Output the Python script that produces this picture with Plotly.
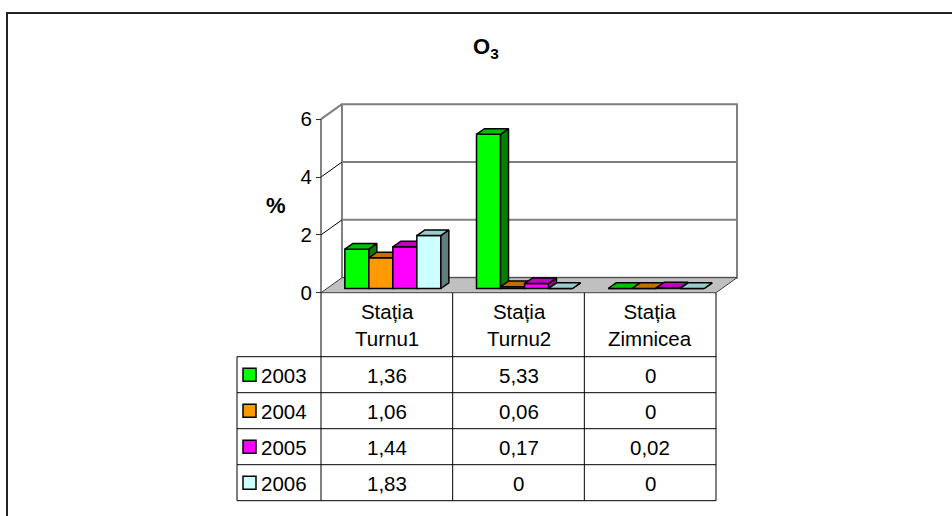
import plotly.graph_objects as go

# ---------------- data ----------------
categories = ["Stația<br>Turnu1", "Stația<br>Turnu2", "Stația<br>Zimnicea"]
years = ["2003", "2004", "2005", "2006"]
values_2003 = [1.36, 5.33, 0]
values_2004 = [1.06, 0.06, 0]
values_2005 = [1.44, 0.17, 0.02]
values_2006 = [1.83, 0, 0]
y_ticks = [0, 2, 4, 6]
series_values = [values_2003, values_2004, values_2005, values_2006]

# ---------------- styling ----------------
front_colors = ["#00FF00", "#FF9900", "#FF00FF", "#CCFFFF"]
top_colors = ["#00C000", "#C07000", "#C000C0", "#99CCCC"]
side_colors = ["#008000", "#996600", "#990099", "#5F7F7F"]
FONT = "Liberation Sans, Arial, sans-serif"
FS = 20.5
W, H = 952, 516

# pixel scale of the front plane (used to set axis ranges)
X0, XPX = 321.0, 131.67     # px of x=0, px per category
Y0, YPX = 292.7, 28.92      # px of value 0, px per unit
xr = [(0 - X0) / XPX, (W - X0) / XPX]
yr = [(Y0 - H) / YPX, Y0 / YPX]

# 3D offsets in data units
BX, BY = 21 / XPX, 15 / YPX          # floor / wall depth
BDX, BDY = 6 / XPX, 4.2 / YPX        # bar front shift into depth
DDX, DDY = 8 / XPX, 5.7 / YPX        # bar depth
BW = 24 / XPX                        # bar width
ncat = len(categories)
nser = len(years)


def px(x):
    return x / W


def py(y):
    return 1 - y / H


fig = go.Figure()

# ---------------- bars (one overlaid subplot per series for correct occlusion) ----
for k, vals in enumerate(series_values):
    ax = "" if k == 0 else str(k + 1)
    xs = [i + 0.5 + (k - (nser - 1) / 2) * BW + BDX for i in range(ncat)]
    fig.add_trace(go.Bar(
        x=xs, y=vals, base=BDY, width=BW,
        marker=dict(color=front_colors[k], line=dict(color="black", width=1.5)),
        xaxis="x" + ax, yaxis="y" + ax, hoverinfo="skip", showlegend=False))
    sx, sy, tx, ty = [], [], [], []
    for x, v in zip(xs, vals):
        xl, xrgt = x - BW / 2, x + BW / 2
        b, t = BDY, BDY + v
        sx += [xrgt, xrgt + DDX, xrgt + DDX, xrgt, xrgt, None]
        sy += [b, b + DDY, t + DDY, t, b, None]
        tx += [xl, xl + DDX, xrgt + DDX, xrgt, xl, None]
        ty += [t, t + DDY, t + DDY, t, t, None]
    fig.add_trace(go.Scatter(x=sx, y=sy, mode="lines", fill="toself",
                             fillcolor=side_colors[k], line=dict(color="black", width=1.5),
                             xaxis="x" + ax, yaxis="y" + ax, hoverinfo="skip", showlegend=False))
    fig.add_trace(go.Scatter(x=tx, y=ty, mode="lines", fill="toself",
                             fillcolor=top_colors[k], line=dict(color="black", width=1.5),
                             xaxis="x" + ax, yaxis="y" + ax, hoverinfo="skip", showlegend=False))

shapes = []
ymax = max(y_ticks)
# back wall
shapes.append(dict(type="rect", xref="x", yref="y", x0=BX, x1=ncat + BX, y0=BY, y1=ymax + BY,
                   fillcolor="white", line=dict(color="#808080", width=2), layer="below"))
# floor
shapes.append(dict(type="path", xref="x", yref="y",
                   path=f"M0,0 L{ncat},0 L{ncat + BX},{BY} L{BX},{BY} Z",
                   fillcolor="#C0C0C0", line=dict(color="#404040", width=1), layer="below"))
# gridlines on back wall and side wall
for v in y_ticks[1:-1]:
    shapes.append(dict(type="line", xref="x", yref="y", x0=BX, x1=ncat + BX, y0=v + BY, y1=v + BY,
                       line=dict(color="#808080", width=2), layer="below"))
    shapes.append(dict(type="line", xref="x", yref="y", x0=0, x1=BX, y0=v, y1=v + BY,
                       line=dict(color="black", width=1), layer="below"))
shapes.append(dict(type="line", xref="x", yref="y", x0=0, x1=BX, y0=ymax, y1=ymax + BY,
                   line=dict(color="#808080", width=2), layer="below"))
# front vertical axis line
shapes.append(dict(type="line", xref="x", yref="y", x0=0, x1=0, y0=0, y1=ymax,
                   line=dict(color="#303030", width=1.2), layer="below"))

# ---------------- data table ----------------
row_top = 293.0
header_bottom = 356.7
row_h = 36.0
table_left = 237.0
table_bottom = header_bottom + row_h * nser
tl = (table_left - X0) / XPX
for i in range(ncat + 1):
    shapes.append(dict(type="line", xref="x", yref="paper", x0=i, x1=i,
                       y0=py(row_top), y1=py(table_bottom), line=dict(color="black", width=1)))
shapes.append(dict(type="line", xref="x", yref="paper", x0=tl, x1=tl,
                   y0=py(header_bottom), y1=py(table_bottom), line=dict(color="black", width=1)))
for r in range(nser + 1):
    yy = header_bottom + r * row_h
    shapes.append(dict(type="line", xref="x", yref="paper", x0=tl, x1=ncat,
                       y0=py(yy), y1=py(yy), line=dict(color="black", width=1)))

annotations = []
for i, c in enumerate(categories):
    annotations.append(dict(text=c, xref="x", yref="paper", x=i + 0.5, y=py(325),
                            xanchor="center", yanchor="middle", showarrow=False,
                            font=dict(family=FONT, size=FS, color="black")))


def fmt(v):
    return f"{v:g}".replace(".", ",")


for k, (yname, vals) in enumerate(zip(years, series_values)):
    cy = header_bottom + (k + 0.5) * row_h
    shapes.append(dict(type="rect", xref="paper", yref="paper",
                       x0=px(243), x1=px(256), y0=py(cy - 6.5), y1=py(cy + 6.5),
                       fillcolor=front_colors[k], line=dict(color="black", width=1.5)))
    annotations.append(dict(text=yname, xref="paper", yref="paper", x=px(259), y=py(cy + 1),
                            xanchor="left", yanchor="middle", showarrow=False,
                            font=dict(family=FONT, size=FS, color="black")))
    for i, v in enumerate(vals):
        annotations.append(dict(text=fmt(v), xref="x", yref="paper", x=i + 0.5, y=py(cy + 1),
                                xanchor="center", yanchor="middle", showarrow=False,
                                font=dict(family=FONT, size=FS, color="black")))

# title and axis title
annotations.append(dict(text="<b>O<sub>3</sub></b>", xref="paper", yref="paper", x=px(486), y=py(48),
                        xanchor="center", yanchor="middle", showarrow=False,
                        font=dict(family=FONT, size=22, color="black")))
annotations.append(dict(text="<b>%</b>", xref="paper", yref="paper", x=px(276), y=py(205),
                        xanchor="center", yanchor="middle", showarrow=False,
                        font=dict(family=FONT, size=22, color="black")))

# outer frame
shapes.append(dict(type="rect", xref="paper", yref="paper", x0=px(7), x1=1.02, y0=py(13), y1=-0.05,
                   line=dict(color="#222222", width=2), fillcolor="rgba(0,0,0,0)"))

layout = dict(
    width=W, height=H, margin=dict(l=0, r=0, t=0, b=0, pad=0),
    paper_bgcolor="white", plot_bgcolor="white",
    barmode="overlay", showlegend=False,
    xaxis=dict(range=xr, visible=False, domain=[0, 1], fixedrange=True),
    yaxis=dict(range=yr, domain=[0, 1], anchor="free", position=X0 / W,
               tickvals=y_ticks, ticktext=[str(t) for t in y_ticks],
               ticks="outside", ticklen=5, tickcolor="#303030", tickwidth=1.2,
               showline=False, showgrid=False, zeroline=False,
               tickfont=dict(family=FONT, size=FS, color="black"), fixedrange=True),
    shapes=shapes, annotations=annotations,
)
for k in range(2, nser + 1):
    layout[f"xaxis{k}"] = dict(range=xr, visible=False, overlaying="x", domain=[0, 1], fixedrange=True)
    layout[f"yaxis{k}"] = dict(range=yr, visible=False, overlaying="y", anchor=f"x{k}",
                               domain=[0, 1], fixedrange=True)
fig.update_layout(**layout)
fig.write_html("out.html")
